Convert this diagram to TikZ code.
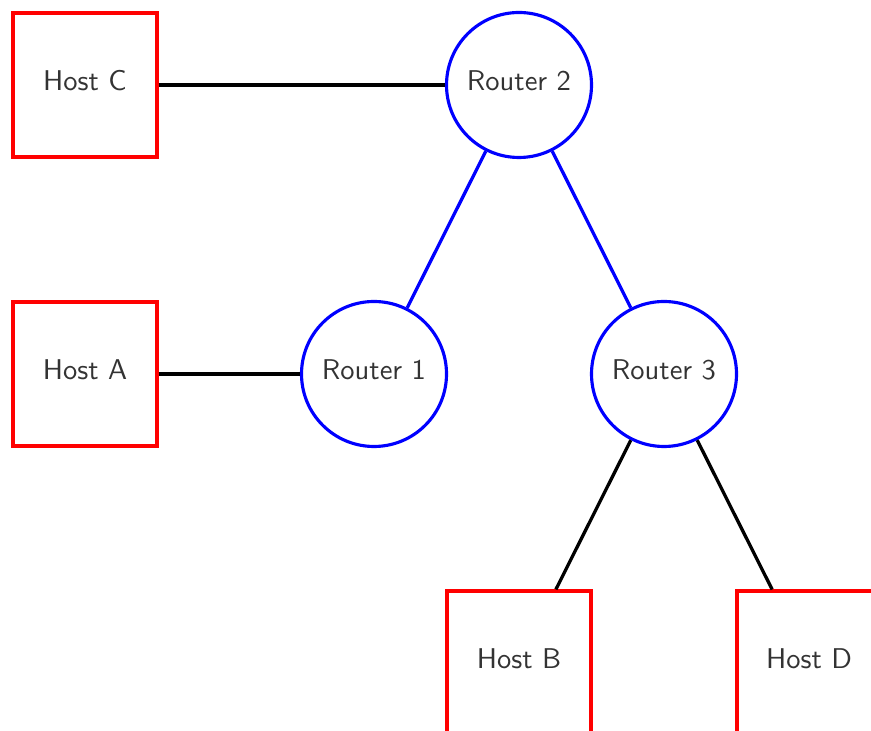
\documentclass[tikz,border=0pt]{standalone}
\usepackage{xcolor}
\usetikzlibrary{positioning}

\begin{document}
\begin{tikzpicture}[
  on grid,
  node distance=101.15pt and 50.75pt,
  host/.style={draw=red, rectangle, minimum size=50.4pt, line width=1.1pt,
               font=\sffamily, text=black!80, text depth=3pt},
  router/.style={draw=blue, circle, minimum size=50.75pt, inner sep=0pt,
                 line width=1.1pt, font=\sffamily, text=black!80, text depth=3pt},
  link/.style={draw=black, line width=1.15pt},
  rlink/.style={draw=blue, line width=1.15pt}
]
% page size of the original drawing (Host C sits at the origin)
\useasboundingbox (-29.75pt,29.75pt) rectangle (275.1pt,-226.1pt);
\clip (-29.75pt,29.75pt) rectangle (275.1pt,-226.1pt);

\node[host] (hostC) at (0,0) {Host C};
\node[router, right=151.9pt of hostC] (r2) {Router 2};
\node[router, below left=of r2] (r1) {Router 1};
\node[router, below right=of r2] (r3) {Router 3};
\node[host, left=101.15pt of r1] (hostA) {Host A};
\node[host, below left=of r3] (hostB) {Host B};
\node[host, below right=of r3] (hostD) {Host D};

\draw[link] (hostC) -- (r2);
\draw[link] (hostA) -- (r1);
\draw[rlink] (r2) -- (r1);
\draw[rlink] (r2) -- (r3);
\draw[link] (r3) -- (hostB);
\draw[link] (r3) -- (hostD);
\end{tikzpicture}
\end{document}
